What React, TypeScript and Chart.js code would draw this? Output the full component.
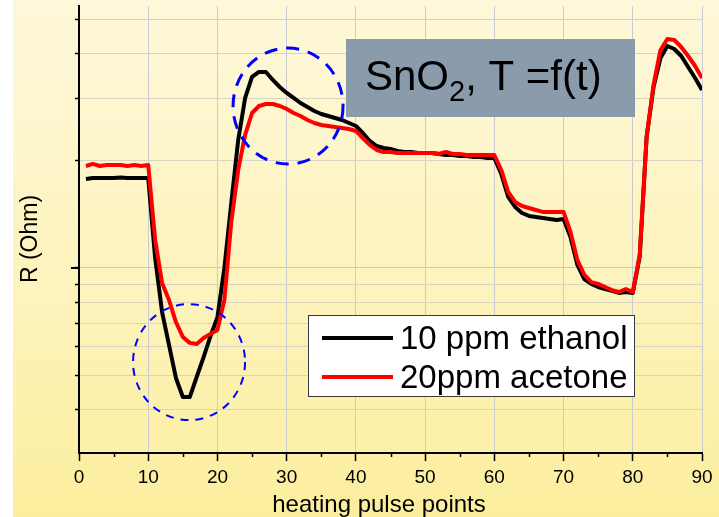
import React, { useEffect, useRef } from 'react';
import { Chart, registerables } from 'chart.js';

Chart.register(...registerables);

// ---------- data ----------
const PULSE_POINTS = Array.from({ length: 90 }, (_, i) => i + 1);

const ETHANOL_10PPM = [
  177.8, 179.0, 179.0, 179.0, 179.0, 179.6, 179.0, 179.0, 179.0, 179.0,
  106.7, 75.2, 60.8, 49.1, 43.4, 43.4, 49.4, 56.2, 64.4, 72.8,
  100.0, 152.3, 228.8, 300.3, 344.0, 355.3, 355.3, 337.4, 322.4, 310.2,
  300.3, 290.7, 283.3, 276.1, 270.8, 267.3, 263.8, 260.5, 255.4, 250.5,
  239.5, 227.4, 220.1, 217.3, 215.9, 213.1, 211.8, 211.8, 210.4, 210.4,
  210.4, 209.0, 207.7, 207.7, 206.4, 206.4, 205.0, 205.0, 203.7, 203.7,
  183.7, 158.3, 148.4, 142.7, 140.0, 139.1, 138.2, 137.3, 136.4, 137.3,
  122.2, 102.0, 93.1, 90.2, 88.4, 87.3, 86.2, 85.1, 85.6, 85.1,
  107.4, 233.3, 322.4, 389.0, 420.4, 412.3, 394.0, 367.0, 341.8, 316.2,
];

const ACETONE_20PPM = [
  193.4, 196.0, 193.4, 194.7, 194.7, 194.7, 193.4, 194.7, 193.4, 194.7,
  119.9, 90.8, 81.3, 70.5, 64.0, 61.6, 61.2, 63.6, 65.3, 67.0,
  81.3, 134.7, 188.5, 236.4, 272.5, 285.1, 288.8, 288.8, 285.1, 279.7,
  272.5, 267.3, 260.5, 255.4, 252.2, 250.5, 248.9, 247.3, 245.7, 242.6,
  231.8, 221.6, 214.5, 211.8, 211.8, 210.4, 210.4, 210.4, 210.4, 210.4,
  210.4, 209.0, 211.8, 209.0, 209.0, 207.7, 207.7, 207.7, 207.7, 207.7,
  188.5, 163.5, 153.3, 149.3, 147.4, 145.5, 143.7, 143.7, 143.7, 143.7,
  126.2, 105.3, 95.6, 91.3, 90.2, 88.4, 86.7, 85.6, 87.3, 85.6,
  108.8, 233.3, 326.6, 409.6, 439.8, 437.0, 417.6, 394.0, 369.3, 341.8,
];

const SERIES_LABELS = ['10 ppm ethanol', '20ppm acetone'];
const SERIES_COLORS = ['#000000', '#ff0000'];

const X_MIN = 0;
const X_MAX = 90;
const X_STEP = 10;
const X_MINOR_TICKS = [5, 15, 25, 35, 45, 55, 65, 75, 85];

const Y_MIN = 30.22;
const Y_MAX = 544.4;
const Y_TICKS = [40, 50, 60, 70, 80, 90, 100, 200, 300, 400, 500];
const Y_MAJOR_TICKS = [100];

const X_TITLE = 'heating pulse points';
const Y_TITLE = 'R (Ohm)';

// highlight circles (center in data coordinates)
const HIGHLIGHTS = [
  { x: 30.2, y: 285, rx: 55, ry: 58, width: 3, dash: [13, 9] },
  { x: 15.9, y: 54.4, rx: 56, ry: 58, width: 2, dash: [8, 7] },
];

const FONT = '"Liberation Sans", Arial, Helvetica, sans-serif';

const overlayPlugin = {
  id: 'overlay',
  afterDatasetsDraw(chart: any) {
    const { ctx, chartArea: ca } = chart;
    const xs = chart.scales.x;
    const ys = chart.scales.y;
    ctx.save();

    // longer major tick on y, short minor ticks on x
    ctx.strokeStyle = '#000';
    ctx.lineWidth = 2;
    for (const v of Y_MAJOR_TICKS) {
      const py = Math.round(ys.getPixelForValue(v));
      ctx.beginPath();
      ctx.moveTo(ca.left - 8, py);
      ctx.lineTo(ca.left, py);
      ctx.stroke();
    }
    ctx.lineWidth = 1.5;
    for (const v of X_MINOR_TICKS) {
      const px = Math.round(xs.getPixelForValue(v)) + 0.5;
      ctx.beginPath();
      ctx.moveTo(px, ca.bottom);
      ctx.lineTo(px, ca.bottom + 4);
      ctx.stroke();
    }

    // dashed highlight ellipses
    ctx.strokeStyle = '#0000ff';
    for (const h of HIGHLIGHTS) {
      const cx = xs.getPixelForValue(h.x);
      const cy = ys.getPixelForValue(h.y);
      ctx.lineWidth = h.width;
      ctx.setLineDash(h.dash);
      ctx.beginPath();
      ctx.ellipse(cx, cy, h.rx, h.ry, 0, 0, Math.PI * 2);
      ctx.stroke();
    }
    ctx.setLineDash([]);

    // title box
    ctx.fillStyle = '#8a9bab';
    ctx.fillRect(346, 39, 289, 78);
    ctx.fillStyle = '#000';
    ctx.textBaseline = 'alphabetic';
    ctx.textAlign = 'left';
    ctx.font = `42px ${FONT}`;
    let tx = 365;
    ctx.fillText('SnO', tx, 90);
    tx += ctx.measureText('SnO').width;
    ctx.font = `29px ${FONT}`;
    ctx.fillText('2', tx, 101);
    tx += ctx.measureText('2').width;
    ctx.font = `42px ${FONT}`;
    ctx.fillText(', T =f(t)', tx, 90);

    // legend
    ctx.fillStyle = '#ffffff';
    ctx.fillRect(308, 315, 326, 81);
    ctx.strokeStyle = '#3a3a3a';
    ctx.lineWidth = 1;
    ctx.strokeRect(308.5, 315.5, 326, 81);
    const rows = [338, 377];
    chart.data.datasets.forEach((ds: any, i: number) => {
      ctx.strokeStyle = ds.borderColor;
      ctx.lineWidth = 4;
      ctx.beginPath();
      ctx.moveTo(322, rows[i]);
      ctx.lineTo(393, rows[i]);
      ctx.stroke();
      ctx.fillStyle = '#000';
      ctx.font = `33px ${FONT}`;
      ctx.textBaseline = 'alphabetic';
      ctx.fillText(ds.label, 400, rows[i] + 11);
    });

    // axis titles
    ctx.fillStyle = '#000';
    ctx.font = `24px ${FONT}`;
    ctx.textAlign = 'center';
    ctx.textBaseline = 'alphabetic';
    ctx.fillText(X_TITLE, 379, 512);

    ctx.save();
    ctx.translate(31, 239);
    ctx.rotate(-Math.PI / 2);
    ctx.font = `23px ${FONT}`;
    ctx.textBaseline = 'middle';
    ctx.fillText(Y_TITLE, 0, 0);
    ctx.restore();

    ctx.restore();
  },
};

export default function App() {
  const canvasRef = useRef<HTMLCanvasElement | null>(null);

  useEffect(() => {
    const canvas = canvasRef.current;
    if (!canvas) return;
    const chart = new Chart(canvas, {
      type: 'line',
      data: {
        datasets: [
          {
            label: SERIES_LABELS[0],
            data: PULSE_POINTS.map((p, i) => ({ x: p, y: ETHANOL_10PPM[i] })),
            borderColor: SERIES_COLORS[0],
            borderWidth: 4,
            pointRadius: 0,
            tension: 0,
            borderJoinStyle: 'round',
            order: 2,
          },
          {
            label: SERIES_LABELS[1],
            data: PULSE_POINTS.map((p, i) => ({ x: p, y: ACETONE_20PPM[i] })),
            borderColor: SERIES_COLORS[1],
            borderWidth: 4,
            pointRadius: 0,
            tension: 0,
            borderJoinStyle: 'round',
            order: 1,
          },
        ],
      },
      options: {
        responsive: false,
        animation: false,
        devicePixelRatio: 1,
        layout: { padding: { left: 0, top: 6, right: 17, bottom: 0 } },
        plugins: {
          legend: { display: false },
          tooltip: { enabled: false },
          title: { display: false },
        },
        scales: {
          x: {
            type: 'linear',
            min: X_MIN,
            max: X_MAX,
            afterFit: (scale: any) => {
              scale.height = 64;
            },
            ticks: {
              stepSize: X_STEP,
              autoSkip: false,
              maxRotation: 0,
              color: '#000',
              padding: 5,
              font: { family: FONT, size: 19 },
            },
            grid: {
              color: '#c9cad2',
              lineWidth: 1,
              tickColor: '#000',
              tickLength: 8,
              tickWidth: 1.5,
            },
            border: { color: '#000', width: 2 },
          },
          y: {
            type: 'logarithmic',
            min: Y_MIN,
            max: Y_MAX,
            afterFit: (scale: any) => {
              scale.width = 79;
            },
            afterBuildTicks: (scale: any) => {
              scale.ticks = Y_TICKS.map((v) => ({ value: v }));
            },
            ticks: { display: false },
            grid: {
              color: (c: any) =>
                c.tick && Y_MAJOR_TICKS.includes(c.tick.value) ? '#c6c7cf' : '#d8d4c2',
              borderDash: (c: any) =>
                c.tick && Y_MAJOR_TICKS.includes(c.tick.value) ? [] : [1, 3],
              lineWidth: 1,
              tickColor: '#000',
              tickLength: 4,
              tickWidth: 1.5,
            },
            border: { color: '#000', width: 2 },
          },
        },
      },
      plugins: [overlayPlugin],
    } as any);
    return () => chart.destroy();
  }, []);

  return (
    <div
      style={{
        position: 'fixed',
        left: 0,
        top: 0,
        width: 719,
        height: 517,
        background: '#ffffff',
        overflow: 'hidden',
      }}
    >
      <div
        style={{
          position: 'absolute',
          left: 13,
          top: 0,
          width: 706,
          height: 517,
          background: 'linear-gradient(to bottom, #fef8da 0%, #fdf3bd 55%, #fcee9e 100%)',
        }}
      />
      <canvas
        ref={canvasRef}
        width={719}
        height={517}
        style={{ position: 'absolute', left: 0, top: 0, display: 'block' }}
      />
    </div>
  );
}
